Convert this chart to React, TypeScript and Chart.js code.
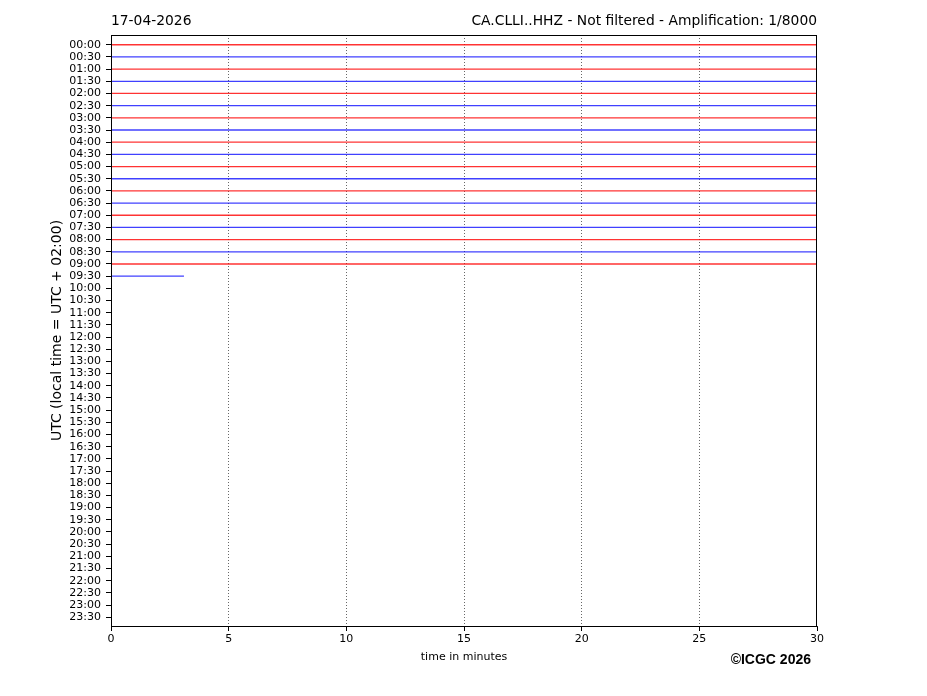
import React, { useEffect, useRef } from "react";
import { Chart, registerables } from "chart.js";

Chart.register(...registerables);

const dateLabel = "17-04-2026";
const stationTitle = "CA.CLLI..HHZ - Not filtered - Amplification: 1/8000";
const yTitle = "UTC (local time = UTC + 02:00)";
const xTitle = "time in minutes";
const copyright = "\u00A9ICGC 2026";

const rowLabels: string[] = [
  "00:00", "00:30", "01:00", "01:30", "02:00", "02:30", "03:00", "03:30",
  "04:00", "04:30", "05:00", "05:30", "06:00", "06:30", "07:00", "07:30",
  "08:00", "08:30", "09:00", "09:30", "10:00", "10:30", "11:00", "11:30",
  "12:00", "12:30", "13:00", "13:30", "14:00", "14:30", "15:00", "15:30",
  "16:00", "16:30", "17:00", "17:30", "18:00", "18:30", "19:00", "19:30",
  "20:00", "20:30", "21:00", "21:30", "22:00", "22:30", "23:00", "23:30",
];

// minutes of data recorded in each half-hour row (rows with data only)
const traceEndMinutes: number[] = [
  30, 30, 30, 30, 30, 30, 30, 30, 30, 30,
  30, 30, 30, 30, 30, 30, 30, 30, 30, 3.1,
];

const xTicks: number[] = [0, 5, 10, 15, 20, 25, 30];
const traceColors: string[] = ["rgba(255,0,0,0.8)", "rgba(0,0,255,0.75)"];

const FONT = "'DejaVu Sans', sans-serif";

const framePlugin = {
  id: "frameAndTexts",
  afterDraw(chart: any) {
    const { ctx, chartArea } = chart;
    ctx.save();
    ctx.strokeStyle = "#000";
    ctx.lineWidth = 1;
    ctx.strokeRect(
      Math.round(chartArea.left) + 0.5,
      Math.round(chartArea.top) + 0.5,
      Math.round(chartArea.right - chartArea.left) - 1,
      Math.round(chartArea.bottom - chartArea.top)
    );
    ctx.fillStyle = "#000";
    ctx.font = `13.85px ${FONT}`;
    ctx.textBaseline = "alphabetic";
    ctx.textAlign = "left";
    ctx.fillText(dateLabel, chartArea.left, 25);
    ctx.textAlign = "right";
    ctx.fillText(stationTitle, chartArea.right, 25);
    ctx.font = `bold 14px 'Liberation Sans', Arial, sans-serif`;
    ctx.textAlign = "right";
    ctx.fillText(copyright, 811, 664);
    ctx.restore();
  },
};

export default function App() {
  const ref = useRef<HTMLCanvasElement | null>(null);
  useEffect(() => {
    if (!ref.current) return;
    const datasets = traceEndMinutes.map((end, i) => ({
      label: rowLabels[i],
      data: [
        { x: 0, y: i },
        { x: end, y: i },
      ],
      borderColor: traceColors[i % 2],
      borderWidth: 1.3,
      pointRadius: 0,
      fill: false,
      tension: 0,
    }));
    const chart = new Chart(ref.current, {
      type: "line",
      data: { datasets },
      plugins: [framePlugin],
      options: {
        animation: false,
        responsive: false,
        events: [],
        layout: { padding: { left: 0, right: 110, top: 35, bottom: 0 } },
        plugins: { legend: { display: false }, tooltip: { enabled: false }, title: { display: false } },
        scales: {
          x: {
            type: "linear",
            min: 0,
            max: 30,
            afterFit(scale: any) {
              scale.height = 70;
            },
            afterBuildTicks(scale: any) {
              scale.ticks = xTicks.map((v) => ({ value: v }));
            },
            ticks: {
              color: "#000",
              font: { family: FONT, size: 11 },
              padding: 2,
              maxRotation: 0,
              callback: (v: any) => String(v),
            },
            grid: {
              color: (c: any) =>
                c.tick && (c.tick.value === 0 || c.tick.value === 30) ? "rgba(0,0,0,0)" : "rgba(0,0,0,0.75)",
              lineWidth: 0.8,
              drawOnChartArea: true,
              drawTicks: true,
              tickLength: 5,
              tickColor: "#000",
              tickWidth: 1,
            },
            border: { display: true, color: "#000", width: 1, dash: [1, 2] },
            title: {
              display: true,
              text: xTitle,
              color: "#000",
              font: { family: FONT, size: 11 },
              padding: { top: 0, bottom: 32 },
            },
          },
          y: {
            type: "linear",
            min: -0.8,
            max: 47.72,
            reverse: true,
            afterFit(scale: any) {
              scale.width = 111;
            },
            afterBuildTicks(scale: any) {
              scale.ticks = rowLabels.map((_, i) => ({ value: i }));
            },
            ticks: {
              autoSkip: false,
              color: "#000",
              font: { family: FONT, size: 11 },
              padding: 5,
              callback: (v: any) => rowLabels[v] ?? "",
            },
            grid: {
              drawOnChartArea: false,
              drawTicks: true,
              tickLength: 5,
              tickColor: "#000",
              tickWidth: 1,
            },
            border: { display: true, color: "#000", width: 1 },
            title: {
              display: true,
              text: yTitle,
              color: "#000",
              font: { family: FONT, size: 14 },
              padding: { top: 49, bottom: 0 },
            },
          },
        },
      } as any,
    });
    return () => chart.destroy();
  }, []);
  return (
    <div style={{ position: "fixed", left: 0, top: 0, width: 927, height: 696, background: "#fff" }}>
      <canvas ref={ref} width={927} height={696} style={{ width: 927, height: 696, display: "block" }} />
    </div>
  );
}
